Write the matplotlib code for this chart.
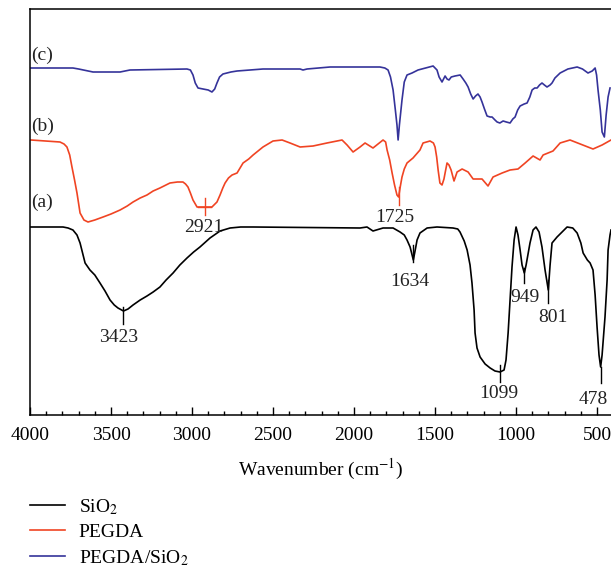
import matplotlib
matplotlib.use('Agg')
import matplotlib.pyplot as plt
from matplotlib.ticker import MultipleLocator
import numpy as np

# (a) SiO2 - wavenumber (cm-1) and transmittance (a.u., offset)
wn_a = [4000, 3796, 3765, 3735, 3710, 3691, 3660, 3630, 3600, 3568, 3537, 3506,
        3480, 3457, 3423, 3395, 3364, 3320, 3278, 3240, 3198, 3160, 3117, 3075,
        3031, 2990, 2951, 2889, 2827, 2765, 2700, 2623, 1963, 1920, 1883, 1821,
        1759, 1716, 1690, 1673, 1654, 1634, 1620, 1611, 1593, 1549, 1488, 1389,
        1360, 1346, 1320, 1302, 1284, 1272, 1259, 1253, 1241, 1222, 1191, 1160,
        1130, 1099, 1074, 1062, 1049, 1037, 1025, 1012, 1000, 988, 975, 963, 949,
        938, 914, 895, 877, 858, 840, 821, 801, 790, 778, 747, 685, 650, 623, 600,
        586, 560, 543, 525, 512, 500, 488, 478, 469, 451, 438, 432, 420, 414]
t_a = [188, 188, 187, 185, 180, 172, 152, 145, 140, 132, 124, 115,
       110, 107, 104, 106, 110, 115, 119, 123, 128, 135, 142, 150,
       157, 163, 168, 177, 184, 187, 188, 188, 187, 188, 184, 187,
       187, 183, 180, 175, 168, 155, 167, 175, 182, 187, 188, 187,
       186, 183, 174, 165, 150, 132, 105, 82, 67, 58, 51, 47,
       44, 43, 45, 55, 82, 115, 148, 175, 188, 180, 165, 150, 142,
       150, 172, 185, 188, 183, 168, 145, 125, 150, 172, 178, 188, 187, 182, 172,
       162, 155, 152, 145, 120, 88, 60, 48, 60, 98, 135, 165, 180, 185]

# (b) PEGDA
wn_b = [3994, 3815, 3790, 3772, 3755, 3741, 3725, 3710, 3691, 3667, 3642, 3600,
        3549, 3500, 3444, 3400, 3364, 3320, 3278, 3240, 3198, 3136, 3090, 3056,
        3040, 3025, 3010, 2994, 2969, 2921, 2877, 2846, 2827, 2810, 2796, 2775,
        2753, 2722, 2685, 2650, 2623, 2562, 2500, 2444, 2395, 2333, 2253, 2167,
        2074, 2043, 2006, 1963, 1932, 1883, 1821, 1805, 1796, 1780, 1765, 1750,
        1735, 1725, 1715, 1704, 1690, 1673, 1636, 1593, 1574, 1531, 1510, 1500,
        1490, 1481, 1470, 1457, 1445, 1438, 1426, 1414, 1401, 1383, 1364, 1333,
        1296, 1265, 1210, 1173, 1142, 1086, 1037, 988, 944, 895, 852, 833, 772,
        728, 667, 525, 469, 414]
t_b = [275, 273, 271, 268, 260, 248, 235, 222, 202, 195, 193, 195,
       198, 201, 205, 209, 213, 217, 220, 224, 227, 232, 233, 233,
       231, 228, 222, 215, 208, 208, 208, 213, 220, 227, 232, 237,
       240, 242, 252, 256, 260, 268, 274, 275, 272, 268, 269, 272,
       275, 270, 263, 268, 272, 267, 275, 273, 265, 255, 242, 230,
       220, 218, 228, 238, 246, 252, 257, 265, 272, 274, 272, 268,
       258, 245, 232, 230, 236, 242, 252, 250, 245, 234, 243, 246,
       243, 236, 236, 229, 238, 242, 245, 246, 252, 259, 255, 260, 264,
       272, 275, 266, 270, 275]

# (c) PEGDA/SiO2
wn_c = [3994, 3735, 3700, 3611, 3444, 3383, 3031, 3010, 2994, 2980, 2963, 2932,
        2900, 2877, 2860, 2846, 2830, 2809, 2760, 2722, 2562, 2333, 2315, 2290,
        2148, 1840, 1810, 1790, 1775, 1759, 1745, 1735, 1728, 1720, 1704, 1690,
        1673, 1642, 1605, 1512, 1500, 1488, 1475, 1457, 1438, 1426, 1414, 1400,
        1377, 1345, 1327, 1310, 1296, 1280, 1265, 1250, 1235, 1222, 1210, 1195,
        1179, 1160, 1148, 1130, 1117, 1100, 1080, 1060, 1037, 1020, 1006, 990,
        975, 950, 932, 915, 901, 885, 870, 855, 840, 825, 809, 790, 778, 760,
        728, 680, 623, 590, 556, 530, 512, 503, 494, 480, 469, 455, 444, 432, 420]
t_c = [347, 347, 346, 343, 343, 345, 346, 345, 340, 332, 327, 326,
       325, 323, 326, 332, 338, 341, 343, 344, 346, 346, 345, 346,
       348, 348, 347, 345, 338, 325, 305, 290, 275, 290, 315, 333,
       340, 342, 345, 349, 347, 345, 338, 333, 339, 336, 335, 338,
       339, 340, 336, 332, 328, 321, 316, 319, 321, 318, 313, 306,
       299, 298, 298, 295, 293, 292, 294, 293, 292, 296, 298, 305,
       309, 311, 312, 318, 325, 327, 327, 330, 332, 330, 328, 330, 332, 337,
       342, 346, 348, 346, 342, 344, 347, 340, 325, 305, 283, 278, 300, 318, 327]

# peak labels: (text, wavenumber, tick top, tick bottom, label x, label y)
peaks = [('3423', 3423, 108, 91, 3451, 77),
         ('2921', 2921, 217, 200, 2926, 188),
         ('1725', 1725, 228, 210, 1747, 198),
         ('1634', 1634, 170, 153, 1654, 133),
         ('1099', 1099, 50, 33, 1105, 22),
         ('949', 949, 147, 132, 944, 118),
         ('801', 801, 135, 112, 772, 97),
         ('478', 478, 48, 32, 525, 15)]

plt.rcParams['font.family'] = ['Liberation Serif', 'DejaVu Serif']
plt.rcParams['mathtext.fontset'] = 'stix'
plt.rcParams['font.size'] = 14

fig = plt.figure(figsize=(6.11, 5.70), dpi=100)
ax = fig.add_axes([30 / 611, 155 / 570, 581 / 611, 406 / 570])

black, red, blue = '#000000', '#f04423', '#35339a'
ax.plot(wn_a, t_a, color=black, lw=1.2, label='SiO$_2$')
ax.plot(wn_b, t_b, color=red, lw=1.2, label='PEGDA')
ax.plot(wn_c, t_c, color=blue, lw=1.2, label='PEGDA/SiO$_2$')

for txt, wn, top, bot, lx, ly in peaks:
    col = red if txt in ('2921', '1725') else black
    ax.plot([wn, wn], [top, bot], color=col, lw=1.0)
    ax.text(lx, ly, txt, ha='center', va='center', fontsize=14, color='#222222')
# small horizontal of the 2921 cross
ax.plot([2960, 2880], [208, 208], color=red, lw=1.0)

ax.text(3995, 213, '(a)', ha='left', va='center', fontsize=14, color='#222222')
ax.text(3995, 289, '(b)', ha='left', va='center', fontsize=14, color='#222222')
ax.text(3995, 360, '(c)', ha='left', va='center', fontsize=14, color='#222222')

ax.set_xlim(4000, 414)
ax.set_ylim(0, 406)
ax.set_yticks([])
ax.xaxis.set_major_locator(MultipleLocator(500))
ax.xaxis.set_minor_locator(MultipleLocator(100))
ax.tick_params(axis='x', which='major', direction='in', length=6, width=1, pad=9,
               labelsize=14, top=False)
ax.tick_params(axis='x', which='minor', direction='in', length=3, width=1, top=False)
ax.spines['right'].set_visible(False)
for s in ('left', 'top', 'bottom'):
    ax.spines[s].set_linewidth(1.1)
ax.set_xlabel('Wavenumber (cm$^{-1}$)', fontsize=14, labelpad=9)

fig.legend(loc='upper left', bbox_to_anchor=(30 / 611, 73 / 570), frameon=False,
           borderpad=0, borderaxespad=0, handlelength=1.8, handletextpad=0.7,
           labelspacing=0.35, fontsize=14)

fig.savefig('out.png', dpi=100)
